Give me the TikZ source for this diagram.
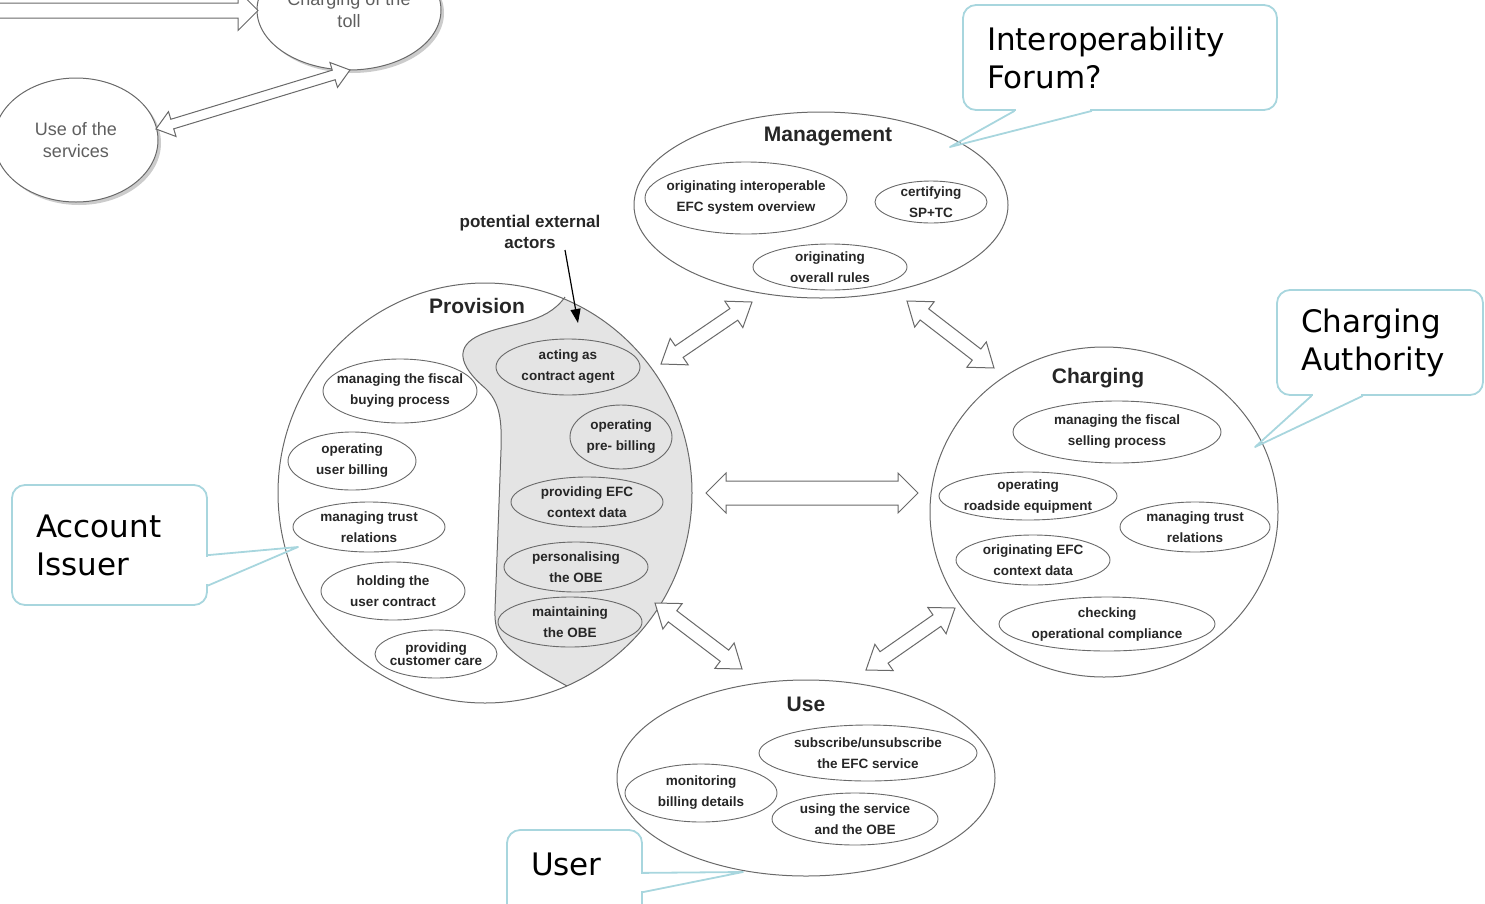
\documentclass[tikz,border=0pt]{standalone}
\usepackage{fontspec}
\setmainfont{Liberation Sans}
\newfontfamily\callfont{DejaVu Sans}
\usepackage{tikz}
\usetikzlibrary{shapes, positioning, calc, arrows.meta, shadows}

\definecolor{linegray}{RGB}{105,105,105}
\definecolor{zonegray}{RGB}{228,228,228}
\definecolor{callblue}{RGB}{168,214,222}
\definecolor{oldgray}{RGB}{95,95,95}

% hollow double arrow: from, to, shaft half width, head half width, head length
\newcommand{\fatarrow}[5]{%
  \draw[fatline] let \p1=($(#2)-(#1)$), \n1={atan2(\y1,\x1)}, \n2={veclen(\x1,\y1)} in
    [shift={(#1)}, rotate=\n1]
    (0pt,0pt) -- (#5pt,#4pt) -- (#5pt,#3pt) -- ({(\n2-#5)*1pt},#3pt) -- ({(\n2-#5)*1pt},#4pt)
    -- ({\n2*1pt},0pt) -- ({(\n2-#5)*1pt},-#4pt) -- ({(\n2-#5)*1pt},-#3pt) -- (#5pt,-#3pt)
    -- (#5pt,-#4pt) -- cycle;}

% callout tail: base one, base two, tip
\newcommand{\calltail}[3]{%
  \draw[white, line width=3pt, shorten <=1.5pt, shorten >=1.5pt] #1 -- #2;
  \draw[callline] #1 -- #3 -- #2;}

\begin{document}
\begin{tikzpicture}[x=1pt, y=-1pt,
  role/.style 2 args={ellipse, draw=linegray, line width=1pt, inner sep=0pt,
    minimum width=#1pt, minimum height=#2pt},
  act/.style 2 args={ellipse, draw=linegray, line width=0.9pt, inner xsep=-30pt, inner ysep=-14pt,
    minimum width=#1pt, minimum height=#2pt, align=center, text=black!85,
    font=\bfseries\fontsize{13.5}{21}\selectfont},
  title/.style={font=\bfseries\fontsize{21}{25}\selectfont, text=black!85},
  old/.style 2 args={ellipse, draw=linegray, line width=1pt, fill=white, inner sep=0pt,
    minimum width=#1pt, minimum height=#2pt, align=center, text=oldgray,
    font=\fontsize{18}{22}\selectfont,
    drop shadow={shadow xshift=3pt, shadow yshift=-3pt, fill=black!40}},
  callbox/.style={draw=callblue, line width=1.8pt, fill=white, rounded corners=13pt,
    font=\callfont\fontsize{31}{38}\selectfont, align=left, inner xsep=24pt, text=black},
  callline/.style={draw=callblue, line width=1.8pt, line join=round},
  fatline/.style={draw=linegray, fill=white, line width=1pt, line join=miter},
  ptr/.style={-{Triangle[length=14pt,width=10pt]}, line width=1.2pt}]

\useasboundingbox (0,0) rectangle (1485,903);
\clip (0,0) rectangle (1485,903);

% older sketch, top left
\node[old={184}{120}] (toll) at (349,10) {Charging of the\\toll};
\node[old={164}{124}] (svc) at (76,140) {Use of the\\services};
\coordinate (tollInA) at (-80,10.5);
\coordinate (tollInB) at (258,10.5);
\coordinate (svcA) at (156,129);
\coordinate (svcB) at (350,70);
\fatarrow{tollInA}{tollInB}{7.5}{20}{20}
\fatarrow{svcA}{svcB}{5}{13}{17}

% Management
\node[role={374}{186}] (mgmt) at (821,205) {};
\node[title] (mgmtT) at (828,136) {Management};
\node[act={202}{72}] (m1) at (746,198) {originating interoperable\\EFC system overview};
\node[act={112}{42}] (m2) at (931,202) {certifying\\SP+TC};
\node[act={154}{46}] (m3) at (830,267) {originating\\overall rules};

% Provision, with the shaded zone of external actors
\coordinate (provC) at (485,493);
\begin{scope}
  \clip (provC) ellipse [x radius=207pt, y radius=210pt];
  \fill[zonegray] (565,297) .. controls (545,325) and (510,322) .. (480,335)
    .. controls (455,346) and (458,365) .. (485,388)
    .. controls (500,402) and (502,420) .. (501,450) -- (495,610)
    .. controls (494,640) and (505,652) .. (567,686) -- (720,700) -- (720,280) -- cycle;
\end{scope}
\draw[linegray, line width=1pt] (565,297) .. controls (545,325) and (510,322) .. (480,335)
    .. controls (455,346) and (458,365) .. (485,388)
    .. controls (500,402) and (502,420) .. (501,450) -- (495,610)
    .. controls (494,640) and (505,652) .. (567,686);
\node[role={414}{420}] (prov) at (provC) {};
\node[title] (provT) at (477,306) {Provision};
\node[act={154}{64}] (p1) at (400,391) {managing the fiscal\\buying process};
\node[act={128}{58}] (p2) at (352,461) {operating\\user billing};
\node[act={144}{56}] (p3) at (568,367) {acting as\\contract agent};
\node[act={102}{64}] (p4) at (621,437) {operating\\pre- billing};
\node[act={152}{50}] (p5) at (587,502) {providing EFC\\context data};
\node[act={152}{50}] (p6) at (369,527) {managing trust\\relations};
\node[act={144}{50}] (p7) at (576,567) {personalising\\the OBE};
\node[act={144}{58}] (p8) at (393,591) {holding the\\user contract};
\node[act={144}{50}] (p9) at (570,622) {maintaining\\the OBE};
\node[act={122}{48}] (p10) at (436,654) {providing\\[-8pt]customer care};

\node[font=\bfseries\fontsize{17}{21}\selectfont, align=center, text=black!85] (ext) at (530,232) {potential external\\actors};
\coordinate (extFrom) at (565,250);
\coordinate (extTip) at (578,323);
\draw[ptr] (extFrom) -- (extTip);

% Charging
\node[role={348}{330}] (chg) at (1104,512) {};
\node[title] (chgT) at (1098,378) {Charging};
\node[act={208}{62}] (c1) at (1117,432) {managing the fiscal\\selling process};
\node[act={178}{48}] (c2) at (1028,496) {operating\\roadside equipment};
\node[act={150}{50}] (c3) at (1195,527) {managing trust\\relations};
\node[act={154}{50}] (c4) at (1033,560) {originating EFC\\context data};
\node[act={216}{54}] (c5) at (1107,624) {checking\\operational compliance};

% Use
\node[role={378}{196}] (use) at (806,778) {};
\node[title] (useT) at (806,704) {Use};
\node[act={218}{56}] (u1) at (868,753) {subscribe/unsubscribe\\the EFC service};
\node[act={152}{58}] (u2) at (701,793) {monitoring\\billing details};
\node[act={166}{52}] (u3) at (855,819) {using the service\\and the OBE};

% links between the roles
\coordinate (provMgmtA) at (661,364);
\coordinate (provMgmtB) at (752,302);
\coordinate (mgmtChgA) at (907,301);
\coordinate (mgmtChgB) at (994,368);
\coordinate (provChgA) at (706,493);
\coordinate (provChgB) at (918,493);
\coordinate (provUseA) at (655,603);
\coordinate (provUseB) at (742,669);
\coordinate (useChgA) at (866,670);
\coordinate (useChgB) at (955,608);
\fatarrow{provMgmtA}{provMgmtB}{7}{16}{22}
\fatarrow{mgmtChgA}{mgmtChgB}{7}{16}{22}
\fatarrow{provChgA}{provChgB}{12}{20}{20}
\fatarrow{provUseA}{provUseB}{7}{16}{22}
\fatarrow{useChgA}{useChgB}{7}{16}{22}

% callouts
\node[callbox, minimum width=314pt, text width=266pt, minimum height=105pt] (iop) at (1120,57.5) {Interoperability\\Forum?};
\coordinate (iopTip) at (950,147);
\calltail{($(iop.south west)!0.166!(iop.south east)$)}{($(iop.south west)!0.411!(iop.south east)$)}{(iopTip)}

\node[callbox, minimum width=206pt, text width=158pt, minimum height=105pt] (auth) at (1380,342.5) {Charging\\Authority};
\coordinate (authTip) at (1255,447);
\calltail{($(auth.south west)!0.17!(auth.south east)$)}{($(auth.south west)!0.417!(auth.south east)$)}{(authTip)}

\node[callbox, minimum width=195pt, text width=147pt, minimum height=120pt] (acct) at (109.5,545) {Account\\Issuer};
\coordinate (acctTip) at (298,547);
\calltail{($(acct.north east)!0.583!(acct.south east)$)}{($(acct.north east)!0.833!(acct.south east)$)}{(acctTip)}

\node[callbox, minimum width=135pt, text width=87pt, minimum height=105pt, text depth=36pt] (usr) at (574.5,882.5) {User};
\coordinate (usrTip) at (743,872);
\calltail{($(usr.north east)!0.41!(usr.south east)$)}{($(usr.north east)!0.59!(usr.south east)$)}{(usrTip)}

\end{tikzpicture}
\end{document}
